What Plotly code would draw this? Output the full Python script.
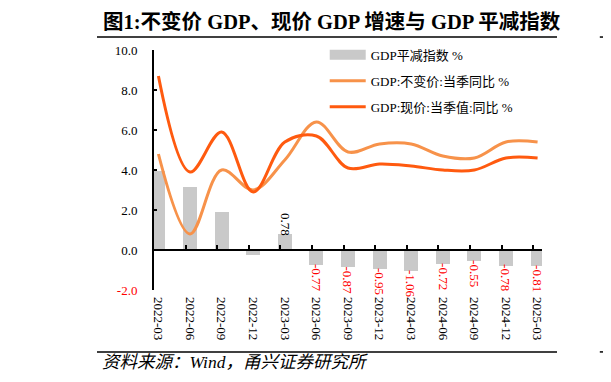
import plotly.graph_objects as go

categories = ["2022-03", "2022-06", "2022-09", "2022-12", "2023-03", "2023-06", "2023-09",
              "2023-12", "2024-03", "2024-06", "2024-09", "2024-12", "2025-03"]
deflator = [3.95, 3.13, 1.90, -0.25, 0.78, -0.77, -0.87, -0.95, -1.06, -0.72, -0.55, -0.78, -0.81]
real_gdp = [4.8, 0.8, 4.0, 3.0, 4.5, 6.4, 4.9, 5.3, 5.3, 4.7, 4.6, 5.4, 5.4]
nominal_gdp = [8.7, 3.9, 5.9, 2.9, 5.4, 5.7, 4.1, 4.3, 4.2, 4.0, 4.0, 4.6, 4.6]
labeled_from = 4  # bar labels shown from 2023-03 on
y_ticks = [-2, 0, 2, 4, 6, 8, 10]

names = ["GDP平减指数 %", "GDP:不变价:当季同比 %", "GDP:现价:当季值:同比 %"]
bar_color = "#c9c9c9"
real_color = "#F7924A"
nom_color = "#FF5A0F"
serif = "Liberation Serif, Times New Roman, Noto Sans CJK SC, serif"

idx = list(range(len(categories)))
off = 0.14

fig = go.Figure()
fig.add_trace(go.Bar(
    x=idx, y=deflator, width=0.44, marker=dict(color=bar_color, line=dict(width=0)),
    name=names[0], showlegend=False, hoverinfo="skip"))
# legend entry for the bars (wide grey block as in the reference)
fig.add_trace(go.Scatter(
    x=idx, y=[None] * len(idx), mode="lines", line=dict(color=bar_color, width=10),
    name=names[0], legendgroup="g1", hoverinfo="skip"))
fig.add_trace(go.Scatter(
    x=idx, y=real_gdp, mode="lines", line=dict(color=real_color, width=3, shape="spline", smoothing=1),
    name=names[1], legendgroup="g2", hoverinfo="skip"))
fig.add_trace(go.Scatter(
    x=idx, y=nominal_gdp, mode="lines", line=dict(color=nom_color, width=3, shape="spline", smoothing=1),
    name=names[2], legendgroup="g3", hoverinfo="skip"))
# zero-crossing category axis (ticks only)
fig.add_trace(go.Scatter(x=idx, y=[None] * len(idx), xaxis="x2", showlegend=False, hoverinfo="skip"))

# bar value labels (rotated), from 2023-03 on
for i, v in enumerate(deflator):
    if i < labeled_from:
        continue
    neg = v < 0
    fig.add_annotation(x=i, y=v, xref="x", yref="y", text=f"{v:.2f}", showarrow=False,
                       textangle=90, xanchor="center", yanchor="top" if neg else "bottom",
                       yshift=3 if neg else -4,
                       font=dict(family=serif, size=13, color="red" if neg else "black"))

xr = [-off, len(categories) - 1 + off]
ytext = [(f"<span style='color:red'>{v:.1f}</span>" if v < 0 else f"{v:.1f}") for v in y_ticks]

fig.update_layout(
    width=603, height=374,
    margin=dict(l=146, r=69, t=42, b=92),
    paper_bgcolor="white", plot_bgcolor="white",
    font=dict(family=serif, size=13, color="black"),
    bargap=0,
    xaxis=dict(range=xr, tickmode="array", tickvals=idx, ticktext=categories, tickangle=90,
               ticks="", showline=False, showgrid=False, zeroline=False,
               tickfont=dict(family=serif, size=13, color="black"), ticklabelstandoff=6),
    xaxis2=dict(range=xr, overlaying="x", anchor="free", position=2 / 12, side="bottom",
                tickmode="array", tickvals=[i - off for i in idx], showticklabels=False,
                ticks="inside", ticklen=4, tickwidth=1.5, tickcolor="black",
                showline=True, linecolor="black", linewidth=2, showgrid=False, zeroline=False),
    yaxis=dict(range=[-2, 10], tickmode="array", tickvals=y_ticks, ticktext=ytext,
               ticks="inside", ticklen=3, tickwidth=1.5, tickcolor="black",
               showline=True, linecolor="black", linewidth=2, showgrid=False, zeroline=False,
               tickfont=dict(family=serif, size=13, color="black"), ticklabelstandoff=12),
    legend=dict(x=0.44, y=1.042, xanchor="left", yanchor="top", bgcolor="rgba(0,0,0,0)",
                font=dict(family=serif, size=13, color="black"), itemwidth=36,
                traceorder="grouped", tracegroupgap=6),
    showlegend=True,
)

fig.add_annotation(xref="paper", yref="paper", x=0.459, y=1.117, xanchor="center", yanchor="middle",
                   text="<b>图1:不变价 GDP、现价 GDP 增速与 GDP 平减指数</b>", showarrow=False,
                   borderpad=0, font=dict(family=serif, size=20.5, color="black"))
fig.add_annotation(xref="paper", yref="paper", x=-0.139, y=-0.3, xanchor="left", yanchor="middle",
                   text="<i>资料来源：Wind，甬兴证券研究所</i>", showarrow=False,
                   font=dict(family=serif, size=17.5, color="black"))
for yy in (1.054, -0.258):
    fig.add_shape(type="line", xref="paper", yref="paper", x0=-0.147, x1=1.0387, y0=yy, y1=yy,
                  line=dict(color="black", width=1.5))
    fig.add_shape(type="line", xref="paper", yref="paper", x0=1.149, x1=1.18, y0=yy, y1=yy,
                  line=dict(color="black", width=1.5))

fig.write_html("out.html")
